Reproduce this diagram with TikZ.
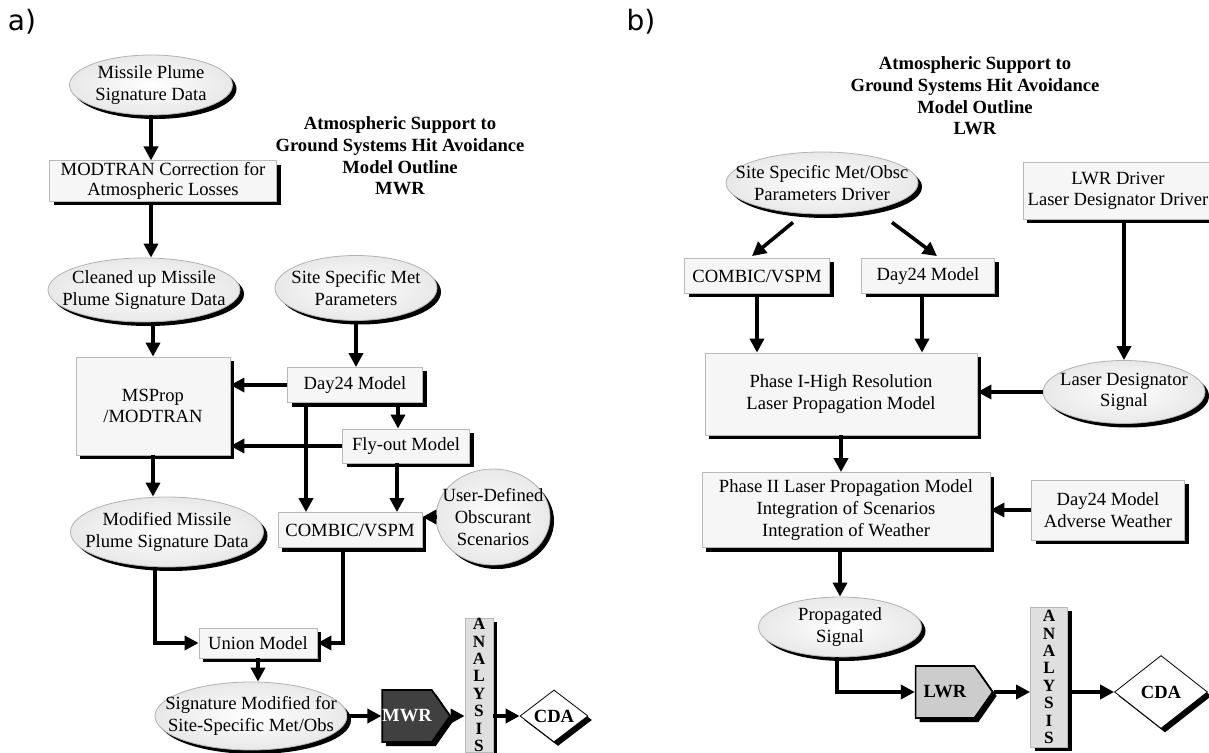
\documentclass[tikz,border=0pt]{standalone}
\usepackage{fontspec}
\setmainfont{Liberation Serif}
\newfontfamily\panelfont{DejaVu Sans}
\usetikzlibrary{positioning, calc, arrows.meta, shapes.geometric, shapes.symbols, shadows}

\begin{document}
\begin{tikzpicture}[x=0.5pt, y=-0.5pt,
        every node/.style={font=\fontsize{9.3}{10.8}\selectfont},
        shadowed/.style={drop shadow={shadow xshift=2pt, shadow yshift=-2pt,
                         fill=black, opacity=1}},
        box/.style={rectangle, shadowed, draw=gray!55, fill=gray!7,
                    align=center, inner sep=1pt},
        oval/.style={ellipse, shadowed, draw=gray!60, inner color=white,
                     outer color=gray!18, inner sep=0pt},
        txt/.style={align=center, inner sep=0pt},
        title/.style={align=center, font=\fontsize{9.3}{10.8}\selectfont\bfseries},
        panel/.style={font=\panelfont\fontsize{14}{16}\selectfont},
        stack/.style={box, fill=gray!25, inner sep=0pt,
                      font=\fontsize{8.6}{8.7}\selectfont\bfseries},
        outcome/.style={diamond, shadowed, draw=black, fill=white, inner sep=0pt,
                        aspect=1.3, font=\fontsize{9.3}{10.8}\selectfont\bfseries},
        weapon/.style={signal, signal to=east, signal pointer angle=110, shadowed,
                       draw=black, line width=0.8pt, inner sep=0pt,
                       font=\fontsize{9.3}{10.8}\selectfont\bfseries},
        arrow/.style={-{Triangle[length=7pt,width=7pt]}, line width=1.8pt},
        link/.style={line width=1.8pt}]
    \useasboundingbox (0,0) rectangle (1209,753);

    % ---- a) MWR ----
    \node[panel] (lblA) at (22,22) {a)};
    \node[title] (titleA) at (400,156)
        {Atmospheric Support to\\Ground Systems Hit Avoidance\\Model Outline\\MWR};
    \node[oval, minimum width=81.5pt, minimum height=30pt,
          label={[txt]center:{Missile Plume\\Signature Data}}] (plume) at (151,85) {};
    \node[box, minimum width=113.5pt, minimum height=20pt,
          font=\fontsize{9.3}{9.6}\selectfont] (modtran) at (163,181)
        {MODTRAN Correction for\\Atmospheric Losses};
    \node[oval, minimum width=96pt, minimum height=32pt,
          label={[txt]center:{Cleaned up Missile\\Plume Signature Data}}] (cleaned) at (144,290) {};
    \node[oval, minimum width=81pt, minimum height=32.5pt,
          label={[txt]center:{Site Specific Met\\Parameters}}] (siteL) at (356,288) {};
    \node[box, minimum width=77pt, minimum height=49pt] (msprop) at (153,406)
        {MSProp\\/MODTRAN};
    \node[box, minimum width=67.5pt, minimum height=17.5pt] (dayL) at (355,385) {Day24 Model};
    \node[box, minimum width=63.5pt, minimum height=17pt] (flyout) at (406,446) {Fly-out Model};
    \node[oval, minimum width=96.5pt, minimum height=35pt,
          label={[txt]center:{Modified Missile\\Plume Signature Data}}] (modified) at (167,532) {};
    \node[box, minimum width=72pt, minimum height=17.5pt] (combicL) at (350,530) {COMBIC/VSPM};
    \node[oval, minimum width=57pt, minimum height=48pt,
          label={[txt]center:{User-Defined\\Obscurant\\Scenarios}}] (user) at (493,517) {};
    \node[box, minimum width=59pt, minimum height=15pt] (union) at (258,643) {Union Model};
    \node[oval, minimum width=96pt, minimum height=34pt,
          label={[txt]center:{Signature Modified for\\Site-Specific Met/Obs}}] (sigmod) at (251,716) {};
    \node[weapon, fill=black!75, text=white, minimum width=27.5pt, minimum height=26pt]
        (mwr) at (407,716) {MWR};
    \node[stack, minimum width=14pt, minimum height=67pt] (anaL) at (479,685)
        {A\\N\\A\\L\\Y\\S\\I\\S};
    \node[outcome, minimum width=34pt, minimum height=26pt] (cdaL) at (554,716) {CDA};

    \draw[arrow] (plume.south) -- (plume.south |- modtran.north);
    \draw[arrow] (modtran.south -| plume.south) -- (cleaned.north -| plume.south);
    \draw[arrow] (msprop.north |- cleaned.south) -- (msprop.north);
    \draw[arrow] (msprop.south) -- (msprop.south |- modified.north);
    \draw[arrow] (siteL.south) -- (siteL.south |- dayL.north);
    \draw[arrow] (dayL.west) -- (dayL.west -| msprop.east);
    \draw[arrow] ([xshift=-24.5pt]dayL.south) -- ([xshift=-24.5pt]dayL.south |- combicL.north);
    \draw[arrow] ([xshift=21.5pt]dayL.south) -- ([xshift=21.5pt]dayL.south |- flyout.north);
    \draw[arrow] (flyout.west) -- (flyout.west -| msprop.east);
    \draw[arrow] ([xshift=-4.5pt]flyout.south) -- ([xshift=-4.5pt]flyout.south |- combicL.north);
    \draw[arrow] (user.west) -- (user.west -| combicL.east);
    \draw[arrow] ([xshift=-6pt]modified.south) |- (union.west);
    \draw[arrow] ([xshift=-3.5pt]combicL.south) |- (union.east);
    \draw[arrow] (union.south) -- (union.south |- sigmod.north);
    \draw[arrow] (sigmod.east) -- (mwr.west);
    \draw[arrow] (mwr.east) -- (mwr.east -| anaL.west);
    \draw[arrow] (anaL.east |- cdaL.west) -- (cdaL.west);

    % ---- b) LWR ----
    \node[panel] (lblB) at (641,22) {b)};
    \node[title] (titleB) at (975,96)
        {Atmospheric Support to\\Ground Systems Hit Avoidance\\Model Outline\\LWR};
    \node[oval, minimum width=96pt, minimum height=31pt,
          label={[txt]center:{Site Specific Met/Obsc\\Parameters Driver}}] (siteR) at (822,183) {};
    \node[box, minimum width=95pt, minimum height=28.5pt] (driver) at (1118,191)
        {LWR Driver\\Laser Designator Driver};
    \node[box, minimum width=72.5pt, minimum height=17.5pt] (combicR) at (757,276) {COMBIC/VSPM};
    \node[box, minimum width=66.5pt, minimum height=17.5pt] (dayR) at (928,276) {Day24 Model};
    \node[box, minimum width=136pt, minimum height=41pt] (phase1) at (841,394)
        {Phase I-High Resolution\\Laser Propagation Model};
    \node[oval, minimum width=81pt, minimum height=31.5pt,
          label={[txt]center:{Laser Designator\\Signal}}] (laser) at (1124,392) {};
    \node[box, minimum width=144pt, minimum height=37.5pt] (phase2) at (846,510)
        {Phase II Laser Propagation Model\\Integration of Scenarios\\Integration of Weather};
    \node[box, minimum width=76.5pt, minimum height=30pt] (dayAW) at (1108,510)
        {Day24 Model\\Adverse Weather};
    \node[oval, minimum width=81.5pt, minimum height=30pt,
          label={[txt]center:{Propagated\\Signal}}] (prop) at (840,627) {};
    \node[weapon, fill=gray!40, minimum width=38.5pt, minimum height=26pt]
        (lwr) at (945,692) {LWR};
    \node[stack, minimum width=18.5pt, minimum height=70pt] (anaR) at (1049,677)
        {A\\N\\A\\L\\Y\\S\\I\\S};
    \node[outcome, minimum width=46.5pt, minimum height=36.5pt] (cdaR) at (1161,692) {CDA};

    \draw[arrow] ($(siteR.south)+(-29,8)$) -- ($(combicR.north)+(-5,-2)$);
    \draw[arrow] ($(siteR.south)+(70,8)$) -- ($(dayR.north)+(9,-2)$);
    \draw[arrow] (combicR.south) -- (combicR.south |- phase1.north);
    \draw[arrow] ([xshift=-3pt]dayR.south) -- ([xshift=-3pt]dayR.south |- phase1.north);
    \draw[arrow] (laser.north |- driver.south) -- (laser.north);
    \draw[arrow] (laser.west) -- (laser.west -| phase1.east);
    \draw[arrow] (phase1.south) -- (phase1.south |- phase2.north);
    \draw[arrow] (dayAW.west) -- (dayAW.west -| phase2.east);
    \draw[arrow] (prop.north |- phase2.south) -- (prop.north);
    \draw[arrow] ([xshift=-1.5pt]prop.south) |- (lwr.west);
    \draw[arrow] (lwr.east) -- (lwr.east -| anaR.west);
    \draw[arrow] (anaR.east |- cdaR.west) -- (cdaR.west);
\end{tikzpicture}
\end{document}
